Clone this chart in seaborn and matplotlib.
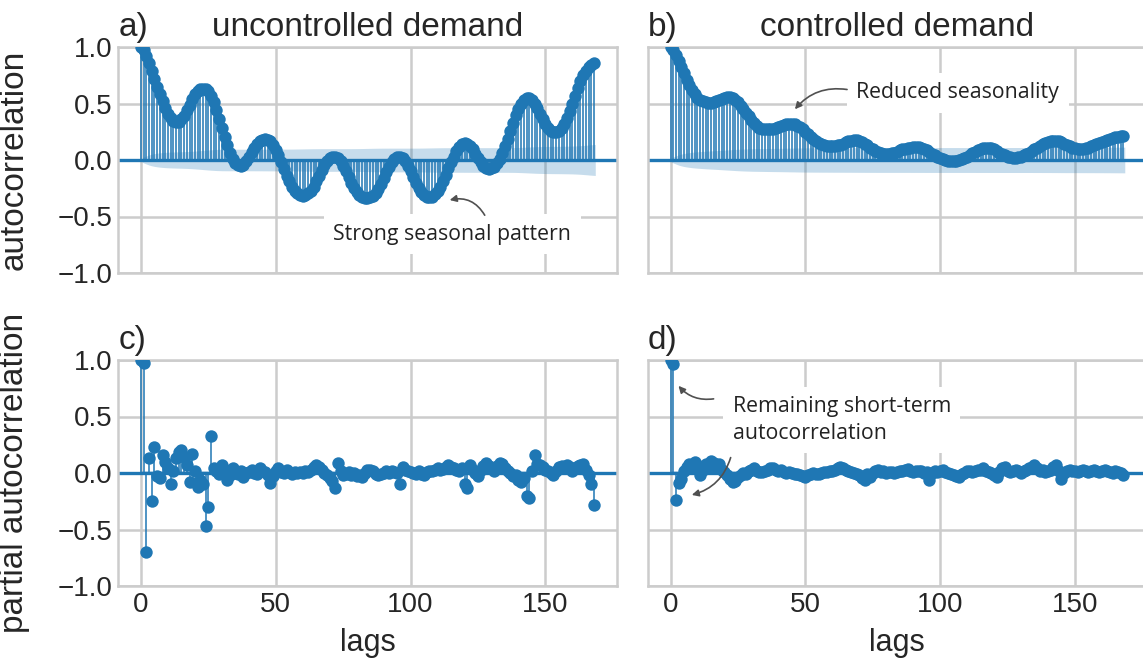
import numpy as np
import matplotlib
matplotlib.use("Agg")
import matplotlib.pyplot as plt
import seaborn as sns

# ---------------- data ----------------
lags = np.arange(169)

acf_uncontrolled = [
    1.0, 0.97, 0.92, 0.86, 0.79, 0.72, 0.65, 0.58, 0.52, 0.46,
    0.41, 0.37, 0.345, 0.335, 0.34, 0.36, 0.39, 0.44, 0.49, 0.54,
    0.58, 0.61, 0.625, 0.63, 0.63, 0.61, 0.57, 0.51, 0.44, 0.36,
    0.28, 0.20, 0.13, 0.06, 0.01, -0.03, -0.045, -0.05, -0.04, -0.01,
    0.03, 0.07, 0.11, 0.14, 0.165, 0.18, 0.185, 0.18, 0.165, 0.13,
    0.09, 0.04, -0.02, -0.08, -0.14, -0.19, -0.24, -0.27, -0.295, -0.31,
    -0.315, -0.31, -0.295, -0.27, -0.235, -0.19, -0.14, -0.09, -0.045, -0.01,
    0.015, 0.03, 0.03, 0.015, -0.01, -0.05, -0.10, -0.15, -0.20, -0.245,
    -0.28, -0.31, -0.325, -0.335, -0.335, -0.33, -0.315, -0.29, -0.255, -0.21,
    -0.16, -0.11, -0.06, -0.02, 0.01, 0.03, 0.03, 0.015, -0.01, -0.05,
    -0.10, -0.15, -0.20, -0.245, -0.28, -0.31, -0.325, -0.33, -0.325, -0.305,
    -0.275, -0.235, -0.185, -0.13, -0.075, -0.02, 0.03, 0.08, 0.115, 0.14,
    0.15, 0.145, 0.125, 0.095, 0.055, 0.015, -0.02, -0.05, -0.07, -0.08,
    -0.075, -0.06, -0.03, 0.01, 0.06, 0.12, 0.19, 0.26, 0.33, 0.40,
    0.455, 0.50, 0.53, 0.545, 0.545, 0.53, 0.50, 0.46, 0.41, 0.36,
    0.32, 0.285, 0.26, 0.25, 0.25, 0.26, 0.285, 0.32, 0.37, 0.43,
    0.50, 0.57, 0.64, 0.70, 0.75, 0.79, 0.82, 0.84, 0.855,
]

acf_controlled = [
    1.0, 0.97, 0.93, 0.88, 0.82, 0.77, 0.71, 0.66, 0.62, 0.58,
    0.55, 0.53, 0.52, 0.51, 0.505, 0.505, 0.51, 0.52, 0.53, 0.54,
    0.55, 0.555, 0.555, 0.55, 0.535, 0.51, 0.48, 0.45, 0.42, 0.39,
    0.355, 0.325, 0.30, 0.285, 0.275, 0.27, 0.27, 0.27, 0.275, 0.28,
    0.29, 0.30, 0.31, 0.315, 0.32, 0.32, 0.315, 0.305, 0.29, 0.27,
    0.25, 0.23, 0.205, 0.185, 0.165, 0.15, 0.14, 0.13, 0.125, 0.125,
    0.125, 0.125, 0.13, 0.135, 0.145, 0.155, 0.165, 0.17, 0.175, 0.175,
    0.17, 0.16, 0.145, 0.13, 0.11, 0.095, 0.08, 0.07, 0.06, 0.055,
    0.055, 0.055, 0.06, 0.065, 0.075, 0.085, 0.095, 0.10, 0.105, 0.11,
    0.115, 0.115, 0.115, 0.11, 0.10, 0.085, 0.07, 0.055, 0.04, 0.025,
    0.015, 0.005, 0.0, -0.005, -0.01, -0.01, -0.005, 0.0, 0.01, 0.02,
    0.03, 0.045, 0.06, 0.075, 0.085, 0.095, 0.105, 0.11, 0.11, 0.105,
    0.095, 0.08, 0.065, 0.05, 0.04, 0.03, 0.025, 0.02, 0.02, 0.025,
    0.03, 0.04, 0.05, 0.065, 0.08, 0.095, 0.11, 0.125, 0.14, 0.15,
    0.16, 0.165, 0.17, 0.17, 0.165, 0.155, 0.145, 0.13, 0.12, 0.11,
    0.105, 0.10, 0.10, 0.10, 0.105, 0.11, 0.12, 0.13, 0.14, 0.15,
    0.16, 0.17, 0.18, 0.19, 0.195, 0.20, 0.205, 0.21, 0.21,
]

pacf_uncontrolled = [
    1.0, 0.97, -0.70, 0.135, -0.245, 0.23, -0.03, -0.04, 0.16, 0.10,
    0.04, -0.10, 0.02, 0.13, 0.185, 0.205, 0.14, 0.07, -0.08, 0.165,
    0.02, -0.125, -0.065, -0.10, -0.47, -0.30, 0.325, 0.045, 0.02, -0.01,
    0.07, 0.03, -0.06, -0.02, 0.04, 0.0, -0.01, 0.02, -0.035, 0.0,
    0.01, 0.025, 0.0, -0.01, 0.04, 0.02, 0.01, -0.02, -0.09, -0.03,
    0.02, 0.04, 0.01, 0.0, 0.025, 0.01, -0.01, 0.01, 0.0, 0.01,
    0.0, 0.015, 0.01, 0.03, 0.05, 0.075, 0.05, 0.03, 0.0, -0.02,
    -0.04, -0.07, -0.13, 0.085, 0.02, -0.02, -0.01, 0.01, -0.02, 0.0,
    -0.03, -0.02, -0.035, 0.0, 0.03, 0.03, 0.02, -0.01, -0.02, -0.01,
    0.0, 0.015, 0.0, 0.02, 0.01, 0.0, -0.095, 0.05, 0.03, 0.02,
    0.01, 0.0, -0.01, 0.02, -0.01, -0.02, 0.01, 0.02, 0.02, 0.03,
    0.04, 0.03, 0.035, 0.05, 0.07, 0.05, 0.045, 0.03, 0.02, 0.04,
    -0.095, -0.13, 0.07, 0.03, 0.0, -0.03, 0.03, 0.06, 0.09, 0.06,
    0.04, 0.02, 0.06, 0.09, 0.08, 0.04, 0.02, 0.0, -0.03, -0.02,
    -0.06, -0.08, -0.04, -0.20, -0.22, 0.02, 0.16, 0.08, 0.07, 0.05,
    0.03, 0.02, 0.0, -0.02, 0.02, 0.05, 0.06, 0.04, 0.07, 0.05,
    0.02, 0.04, 0.06, 0.07, 0.08, 0.03, -0.02, -0.10, -0.28,
]

pacf_controlled = [
    1.0, 0.965, -0.24, -0.09, -0.05, 0.02, 0.05, 0.08, 0.06, 0.095,
    0.07, -0.02, 0.03, 0.08, 0.06, 0.11, 0.09, 0.05, 0.08, 0.03,
    0.01, -0.02, -0.05, -0.08, -0.07, -0.035, -0.02, 0.0, -0.005, 0.02,
    0.03, 0.04, 0.02, 0.01, 0.01, 0.02, 0.03, 0.04, 0.04, 0.03,
    0.02, 0.025, 0.01, 0.0, 0.01, 0.0, -0.005, -0.01, -0.02, -0.03,
    -0.035, -0.02, -0.01, 0.0, -0.01, -0.005, 0.0, 0.01, 0.01, 0.02,
    0.02, 0.03, 0.04, 0.05, 0.04, 0.03, 0.02, 0.01, 0.0, -0.01,
    -0.02, -0.04, -0.065, -0.01, -0.035, 0.0, 0.02, 0.025, 0.01, 0.015,
    0.0, 0.005, 0.01, 0.0, 0.005, 0.02, 0.02, 0.03, 0.035, 0.02,
    0.01, 0.02, 0.015, 0.02, 0.0, 0.01, -0.065, 0.0, 0.02, 0.01,
    0.02, 0.03, 0.01, 0.0, -0.01, -0.02, -0.03, -0.035, -0.01, 0.0,
    0.02, 0.02, 0.01, 0.02, 0.03, 0.03, 0.04, 0.02, 0.01, 0.0,
    -0.02, -0.035, 0.01, 0.04, 0.05, 0.02, 0.01, 0.02, 0.03, 0.02,
    0.0, 0.02, 0.03, 0.04, 0.05, 0.07, 0.04, 0.02, 0.03, 0.01,
    0.02, 0.03, 0.05, 0.07, 0.02, -0.05, 0.0, 0.02, 0.03, 0.02,
    0.02, 0.01, 0.02, 0.03, 0.02, 0.01, 0.02, 0.03, 0.02, 0.01,
    0.02, 0.03, 0.02, 0.01, 0.0, 0.02, 0.01, 0.0, -0.02,
]

nobs = 8760  # length of the hourly series used for the confidence bands

panel_titles = ["uncontrolled demand", "controlled demand"]
panel_letters = ["a)", "b)", "c)", "d)"]
row_labels = ["autocorrelation", "partial autocorrelation"]
xtick_values = [0, 50, 100, 150]
ytick_values = [-1.0, -0.5, 0.0, 0.5, 1.0]

# ---------------- style ----------------
sns.set_theme(style="whitegrid")
plt.rcParams["font.family"] = ["Liberation Sans", "DejaVu Sans"]
plt.rcParams["axes.edgecolor"] = "#cccccc"
plt.rcParams["grid.color"] = "#cccccc"
plt.rcParams["axes.linewidth"] = 1.8
plt.rcParams["grid.linewidth"] = 1.8

BLUE = "#1f77b4"
W, H = 1143, 659
fig = plt.figure(figsize=(W / 100, H / 100), dpi=100)


def ax_at(left, top, right, bottom):
    return fig.add_axes([left / W, 1 - bottom / H, (right - left) / W, (bottom - top) / H])


XMIN, XMAX = -8.4, 176.4
px_per_lag = 2.696
axes = {
    "a": ax_at(141 + XMIN * px_per_lag, 47, 141 + XMAX * px_per_lag, 273),
    "b": ax_at(670.5 + XMIN * px_per_lag, 47, 670.5 + XMAX * px_per_lag, 273),
    "c": ax_at(141 + XMIN * px_per_lag, 360, 141 + XMAX * px_per_lag, 586),
    "d": ax_at(670.5 + XMIN * px_per_lag, 360, 670.5 + XMAX * px_per_lag, 586),
}


def bartlett_band(acf):
    acf = np.asarray(acf)
    var = np.ones(len(acf)) / nobs
    var[0] = 0
    var[1] = 1.0 / nobs
    var[2:] *= 1 + 2 * np.cumsum(acf[1:-1] ** 2)
    return 1.96 * np.sqrt(var)


def draw_corr(ax, values, band):
    values = np.asarray(values)
    ax.vlines(lags, 0, values, color=BLUE, lw=1.1, zorder=2)
    ax.axhline(0, color=BLUE, lw=2.4, zorder=2)
    sns.scatterplot(x=lags, y=values, ax=ax, color=BLUE, s=80, linewidth=0,
                    zorder=3, clip_on=True)
    bl = lags[1:].astype(float)
    bl[0] -= 0.5
    bl[-1] += 0.5
    ax.fill_between(bl, -band[1:], band[1:], color=BLUE, alpha=0.25, lw=0, zorder=1)
    ax.set_xlim(XMIN, XMAX)
    ax.set_ylim(-1.0, 1.0)
    ax.set_xticks(xtick_values)
    ax.set_yticks(ytick_values)
    ax.tick_params(axis="both", labelsize=20, pad=4, length=0)


pacf_band = np.full(len(lags), 1.96 / np.sqrt(nobs))
draw_corr(axes["a"], acf_uncontrolled, bartlett_band(acf_uncontrolled))
draw_corr(axes["b"], acf_controlled, bartlett_band(acf_controlled))
draw_corr(axes["c"], pacf_uncontrolled, pacf_band)
draw_corr(axes["d"], pacf_controlled, pacf_band)

for key in ["a", "b"]:
    axes[key].tick_params(axis="x", labelbottom=False)
for key in ["b", "d"]:
    axes[key].tick_params(axis="y", labelleft=False)
    axes[key].spines["right"].set_visible(False)
for key in ["c", "d"]:
    axes[key].set_xlabel("lags", fontsize=22)
    axes[key].xaxis.set_label_coords(0.5, -0.185)

axes["a"].set_ylabel(row_labels[0], fontsize=24)
axes["c"].set_ylabel(row_labels[1], fontsize=24)
axes["a"].yaxis.set_label_coords(-0.178, 0.5)
axes["c"].yaxis.set_label_coords(-0.178, 0.5)

for key, letter in zip("abcd", panel_letters):
    axes[key].set_title(letter, loc="left", fontsize=24, pad=8)
axes["a"].set_title(panel_titles[0], fontsize=24, pad=8)
axes["b"].set_title(panel_titles[1], fontsize=24, pad=8)

# ---------------- annotations ----------------
ANN_FONT = ["Open Sans", "DejaVu Sans"]
box = dict(boxstyle="square,pad=0.45", fc="white", ec="none")
arrow_kw = dict(arrowstyle="-|>", color="#505050", lw=1.2, mutation_scale=10)

ax = axes["a"]
ax.text(115.5, -0.655, "Strong seasonal pattern", ha="center", va="center",
        fontsize=15.3, family=ANN_FONT, color="#222222", bbox=box, zorder=5)
ax.annotate("", xy=(113.5, -0.36), xytext=(128.0, -0.51),
            arrowprops=dict(connectionstyle="arc3,rad=0.4", **arrow_kw), zorder=6)

ax = axes["b"]
ax.text(106.5, 0.595, "Reduced seasonality", ha="center", va="center",
        fontsize=15.3, family=ANN_FONT, color="#222222", bbox=box, zorder=5)
ax.annotate("", xy=(45.5, 0.43), xytext=(66.5, 0.62),
            arrowprops=dict(connectionstyle="arc3,rad=0.3", **arrow_kw), zorder=6)

ax = axes["d"]
ax.text(23.0, 0.47, "Remaining short-term\nautocorrelation", ha="left", va="center",
        fontsize=15.3, family=ANN_FONT, color="#222222", bbox=box, zorder=5,
        linespacing=1.35)
ax.annotate("", xy=(2.3, 0.79), xytext=(17.0, 0.66),
            arrowprops=dict(connectionstyle="arc3,rad=-0.3", **arrow_kw), zorder=6)
ax.annotate("", xy=(6.9, -0.20), xytext=(22.6, 0.16),
            arrowprops=dict(connectionstyle="arc3,rad=-0.3", **arrow_kw), zorder=6)

fig.savefig("out.png", dpi=100)
